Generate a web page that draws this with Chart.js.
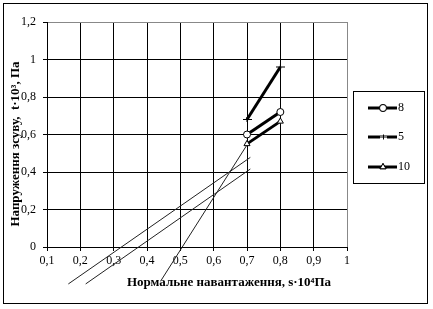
<!DOCTYPE html>
<html>
<head>
<meta charset="utf-8">
<script src="https://cdn.jsdelivr.net/npm/chart.js@4/dist/chart.umd.min.js"></script>
<style>
  html, body { margin: 0; padding: 0; background: #fff; }
  canvas { display: block; }
</style>
</head>
<body>
<canvas id="chart" width="433" height="309"></canvas>
<script>
// measured series (x = normal load, y = shear stress)
const loadX = [0.7, 0.8];
const seriesLabels = ['8', '5', '10'];
const series8 = [0.6, 0.72];
const series5 = [0.68, 0.96];
const series10 = [0.55, 0.67];

// thin trend lines, extended back below the axis
const trendAX = [0.164, 0.71];
const trendAY = [-0.197, 0.478];
const trendBX = [0.216, 0.71];
const trendBY = [-0.197, 0.416];
const trendCX = [0.443, 0.703];
const trendCY = [-0.176, 0.553];

const xTitle = 'Нормальне навантаження, s·10⁴Па';
const yTitle = 'Напруження зсуву,  t·10³, Па';

const FONT = "'Liberation Serif', 'Times New Roman', serif";

// excel-like plus marker: wide dash, short upright
const plusMark = document.createElement('canvas');
plusMark.width = 9;
plusMark.height = 7;
(function () {
  const p = plusMark.getContext('2d');
  p.fillStyle = '#000';
  p.fillRect(0, 3, 9, 1);
  p.fillRect(4, 1, 1, 5);
})();

const pts = (xs, ys) => xs.map((x, i) => ({ x: x, y: ys[i] }));
const comma = v => String(Math.round(v * 10) / 10).replace('.', ',');

const mainSeries = (label, ys, style) => ({
  label: label,
  data: pts(loadX, ys),
  borderColor: '#000',
  borderWidth: 3,
  pointStyle: style,
  pointRadius: 3.5,
  pointBorderWidth: 1,
  pointBackgroundColor: '#fff',
  pointBorderColor: '#000',
  showLine: true,
  legend: true
});

const trend = (xs, ys) => ({
  label: '',
  data: pts(xs, ys),
  borderColor: '#222',
  borderWidth: 1,
  pointRadius: 0,
  showLine: true,
  clip: false
});

const frameAndText = {
  id: 'frameAndText',
  beforeDraw(chart) {
    const c = chart.ctx;
    c.save();
    c.fillStyle = '#fff';
    c.fillRect(0, 0, chart.width, chart.height);
    c.restore();
  },
  afterDraw(chart) {
    const c = chart.ctx;
    c.save();
    // outer frame
    c.strokeStyle = '#000';
    c.lineWidth = 1;
    c.strokeRect(3.5, 3.5, 424, 300);

    // axis titles
    c.fillStyle = '#000';
    c.font = 'bold 13px ' + FONT;
    c.textAlign = 'center';
    c.textBaseline = 'middle';
    c.fillText(xTitle, 229, 283);
    c.save();
    c.translate(16, 144);
    c.rotate(-Math.PI / 2);
    c.fillText(yTitle, 0, 0);
    c.restore();

    // legend box
    const bx = 353, by = 91, bw = 71, bh = 92;
    c.strokeRect(bx + 0.5, by + 0.5, bw, bh);
    const rows = [108, 137, 167];
    chart.data.datasets.filter(d => d.legend).forEach((d, i) => {
      const y = rows[i];
      c.beginPath();
      c.lineWidth = 3;
      c.moveTo(368, y);
      c.lineTo(397, y);
      c.stroke();
      c.lineWidth = 1;
      if (typeof d.pointStyle === 'string') {
        c.beginPath();
        Chart.helpers.drawPoint(c, {
          pointStyle: d.pointStyle, radius: 3.5, borderWidth: 1, rotation: 0
        }, 383, y);
        c.fillStyle = '#fff';
        c.fill();
        c.stroke();
      } else {
        c.fillStyle = '#fff';
        c.fillRect(380, y - 1, 7, 3);
        c.drawImage(d.pointStyle, 379, y - 3.5);
      }
      c.fillStyle = '#000';
      c.font = '12px ' + FONT;
      c.textAlign = 'left';
      c.fillText(d.label, 398, y);
    });
    c.restore();
  }
};

new Chart(document.getElementById('chart'), {
  type: 'scatter',
  data: {
    datasets: [
      mainSeries(seriesLabels[0], series8, 'circle'),
      mainSeries(seriesLabels[1], series5, plusMark),
      mainSeries(seriesLabels[2], series10, 'triangle'),
      trend(trendAX, trendAY),
      trend(trendBX, trendBY),
      trend(trendCX, trendCY)
    ]
  },
  options: {
    responsive: false,
    animation: false,
    devicePixelRatio: 1,
    layout: { padding: { left: 0, top: 22, right: 86, bottom: 0 } },
    plugins: {
      legend: { display: false },
      tooltip: { enabled: false }
    },
    scales: {
      x: {
        type: 'linear',
        min: 0.1,
        max: 1,
        ticks: {
          stepSize: 0.1,
          color: '#000',
          padding: 3,
          maxRotation: 0,
          font: { family: FONT, size: 12 },
          callback: comma
        },
        grid: {
          color: ctx => Math.abs(ctx.tick.value - 1) < 1e-6 ? '#888' : '#000',
          tickColor: '#000',
          tickLength: 4
        },
        border: { color: '#000' },
        afterFit: s => { s.height = 62; }
      },
      y: {
        min: 0,
        max: 1.2,
        ticks: {
          stepSize: 0.2,
          color: '#000',
          padding: 7,
          font: { family: FONT, size: 12 },
          callback: comma
        },
        grid: {
          color: ctx => Math.abs(ctx.tick.value - 1.2) < 1e-6 ? '#888' : '#000',
          tickColor: '#000',
          tickLength: 4
        },
        border: { color: '#000' },
        afterFit: s => { s.width = 47; }
      }
    }
  },
  plugins: [frameAndText]
});
</script>
</body>
</html>
